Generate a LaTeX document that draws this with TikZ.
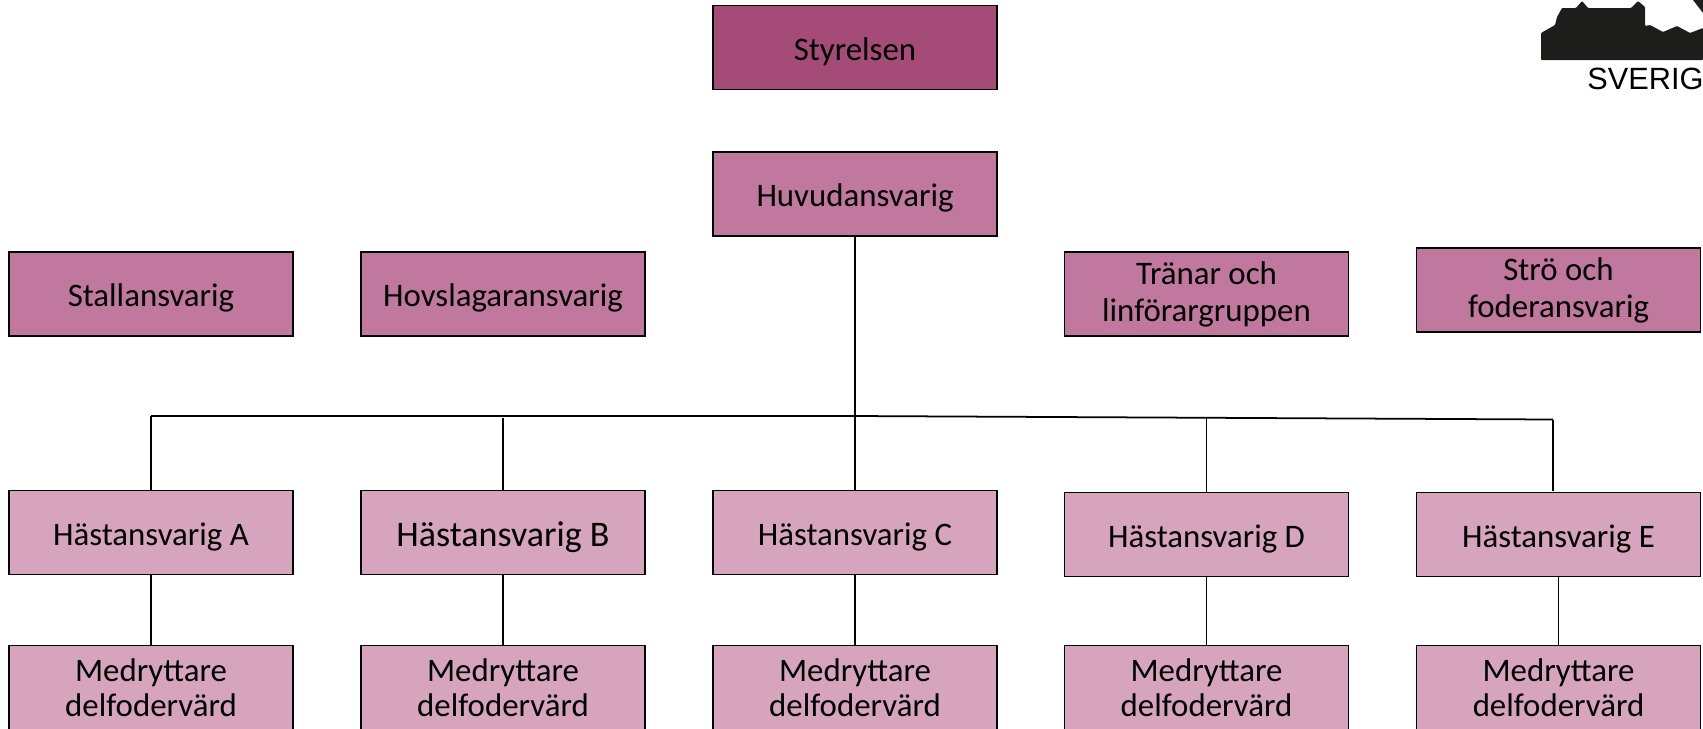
\documentclass[tikz,border=0pt]{standalone}
\usepackage{fontspec}
\setmainfont{Carlito}
\newfontfamily\logofont{Liberation Sans}
\definecolor{cdark}{HTML}{A54B78}
\definecolor{cmid}{HTML}{C0789E}
\definecolor{clight}{HTML}{D6A5BD}
\definecolor{clogo}{HTML}{1D1D1B}
\tikzset{
  orgbox/.style={draw=black,line width=0.9pt,minimum width=5.68cm,minimum height=1.68cm,inner sep=0pt,align=center,text=black,
    font=\fontsize{18.7}{21}\selectfont},
  topbox/.style={orgbox,fill=cdark,execute at begin node={\rule{0pt}{0.96em}}},
  midbox/.style={orgbox,fill=cmid,execute at begin node={\rule{0pt}{0.96em}}},
  twobox/.style={orgbox,fill=cmid,execute at begin node={\rule{0pt}{1.35em}}},
  lowbox/.style={orgbox,fill=clight,execute at begin node={\rule{0pt}{0.96em}}},
  medbox/.style={orgbox,fill=clight,minimum height=1.7cm,font=\fontsize{18.7}{20}\selectfont,execute at begin node={\rule{0pt}{1.1em}}},
  conn/.style={draw=black,line width=0.9pt},
  rail/.style={draw=black,line width=1pt}
}
\begin{document}
\begin{tikzpicture}[x=0.02cm,y=-0.02cm]
\useasboundingbox (0,0) rectangle (1703,728);
% logo
\fill[clogo,rounded corners=0.5pt] (1541,60) -- (1541,33) -- (1555,25) -- (1557,17) -- (1562,8) -- (1576,8) -- (1582,1) -- (1588,8) -- (1631,8) -- (1638,1) -- (1645,7) -- (1645,26) -- (1650,25) -- (1663,32) -- (1677,26) -- (1690,33) -- (1703,28) -- (1703,60) -- cycle;
\fill[clogo] (1693,0) -- (1703,13) -- (1703,0) -- cycle;
\node[anchor=west,inner sep=0pt,font=\logofont\fontsize{17.5}{20}\selectfont,text=black] (logotext) at (1587,79) {SVERIG};
% boxes
\node[topbox] (sty) at (855,47.5) {Styrelsen};
\node[midbox] (huv) at (855,194) {Huvudansvarig};
\node[midbox] (sta) at (151,294) {Stallansvarig};
\node[midbox] (hov) at (503,294) {Hovslagaransvarig};
\node[twobox] (tra) at (1206.5,294) {Tränar och\\linförargruppen};
\node[twobox] (str) at (1558.5,290) {Strö och\\foderansvarig};
\node[lowbox] (ha) at (151,532.5) {Hästansvarig A};
\node[lowbox,font=\fontsize{20.5}{24}\selectfont] (hb) at (503,532.5) {Hästansvarig B};
\node[lowbox] (hc) at (855,532.5) {Hästansvarig C};
\node[lowbox] (hd) at (1206.5,534.5) {Hästansvarig D};
\node[lowbox] (he) at (1558.5,534.5) {Hästansvarig E};
\node[medbox] (ma) at (151,688) {Medryttare\\delfodervärd};
\node[medbox] (mb) at (503,688) {Medryttare\\delfodervärd};
\node[medbox] (mc) at (855,688) {Medryttare\\delfodervärd};
\node[medbox] (md) at (1206.5,688) {Medryttare\\delfodervärd};
\node[medbox] (me) at (1558.5,688) {Medryttare\\delfodervärd};
% rail
\coordinate (rl) at (151,416);
\coordinate (rm) at (855,416);
\coordinate (rr) at (1553,419.5);
\coordinate (re) at (1553,491);
\coordinate (rb) at (503,418);
\coordinate (rd) at (1206.5,418);
\draw[rail] (rl) -- (rm) -- (rr);
\draw[conn] (huv.south) -- (hc.north);
\draw[conn] (ha.north) -- (rl);
\draw[conn] (hb.north) -- (rb);
\draw[conn] (hd.north) -- (rd);
\draw[conn] (re) -- (rr);
\draw[conn] (ha.south) -- (ma.north);
\draw[conn] (hb.south) -- (mb.north);
\draw[conn] (hc.south) -- (mc.north);
\draw[conn] (hd.south) -- (md.north);
\draw[conn] (he.south) -- (me.north);
\end{tikzpicture}
\end{document}
